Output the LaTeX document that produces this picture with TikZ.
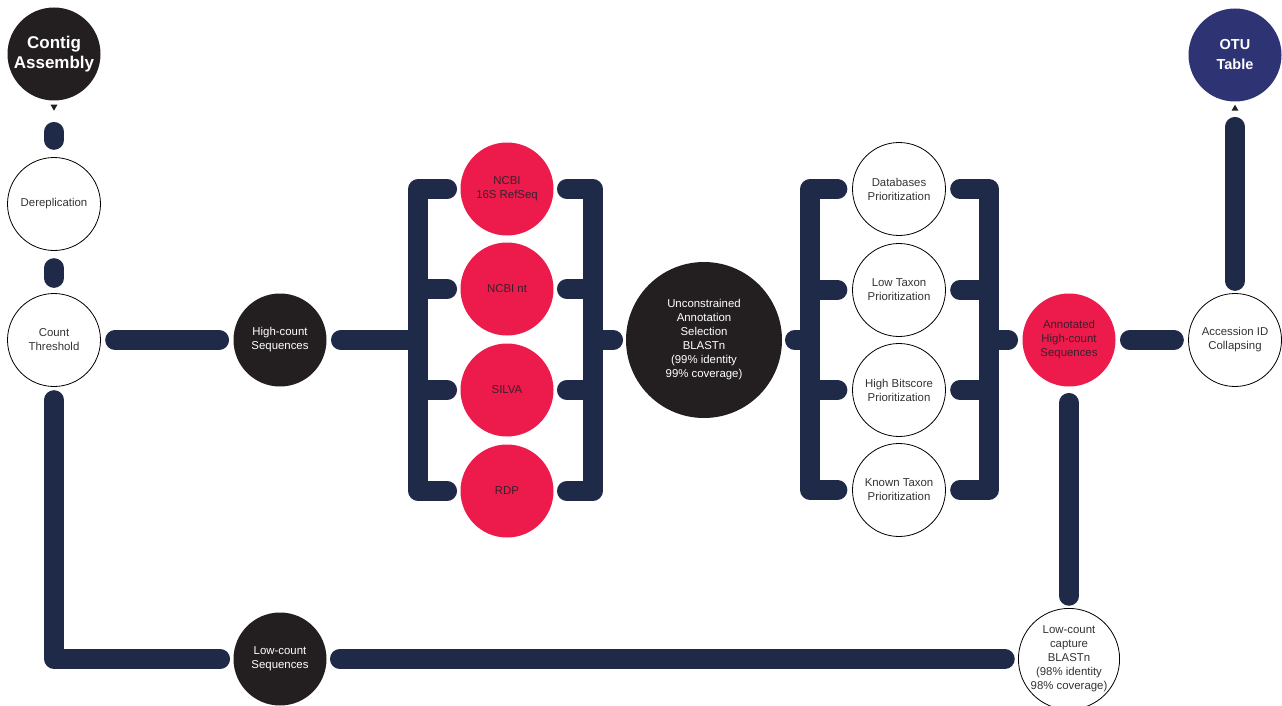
\documentclass[tikz,border=0pt]{standalone}
\usepackage{fontspec}
\setmainfont{Liberation Sans}
\usetikzlibrary{calc}
\definecolor{navy}{HTML}{1F2A48}
\definecolor{redfill}{HTML}{EC1B4B}
\definecolor{redtxt}{HTML}{3A1F2C}
\definecolor{blk}{HTML}{231F20}
\definecolor{otublue}{HTML}{2E3374}
\definecolor{txtgray}{HTML}{333333}
\begin{document}
\begin{tikzpicture}[x=1pt,y=-1pt,
  base/.style={circle,inner sep=0pt,minimum size=93pt,align=center,font=\fontsize{11.4}{14}\selectfont},
  wnode/.style={base,draw=black,line width=0.8pt,fill=white,text=txtgray},
  rnode/.style={base,fill=redfill,text=redtxt},
  bnode/.style={base,fill=blk,text=white},
  conn/.style={draw=navy,line width=19.5pt,line cap=round,line join=round},
]
\useasboundingbox (0,0) rectangle (1282,706);

% nodes
\node[bnode,font=\bfseries\fontsize{17}{20}\selectfont] (contig) at (54,54) {Contig\\Assembly};
\node[wnode] (derep) at (54,204) {Dereplication};
\node[wnode] (count) at (54,340) {Count\\Threshold};
\node[bnode] (high) at (280,340) {High-count\\Sequences};
\node[rnode] (ncbi16) at (507,189) {NCBI\\16S RefSeq};
\node[rnode] (nt) at (507,289) {NCBI nt};
\node[rnode] (silva) at (507,390) {SILVA};
\node[rnode] (rdp) at (507,491) {RDP};
\node[bnode,minimum size=156pt] (unc) at (704,340) {Unconstrained\\Annotation\\Selection\\BLASTn\\(99\% identity\\99\% coverage)};
\node[wnode] (dbp) at (899,189) {Databases\\Prioritization};
\node[wnode] (ltp) at (899,290) {Low Taxon\\Prioritization};
\node[wnode] (hbp) at (899,390) {High Bitscore\\Prioritization};
\node[wnode] (ktp) at (899,490) {Known Taxon\\Prioritization};
\node[rnode] (annot) at (1069,340) {Annotated\\High-count\\Sequences};
\node[wnode] (acc) at (1235,340) {Accession ID\\Collapsing};
\node[base,fill=otublue,text=white,font=\bfseries\fontsize{14.5}{20}\selectfont] (otu) at (1235,55) {OTU\\Table};
\node[bnode] (low) at (280,659) {Low-count\\Sequences};
\node[wnode] (cap) at (1069,659) {Low-count\\capture\\BLASTn\\(98\% identity\\98\% coverage)};

% bracket spine coordinates
\coordinate (b1x) at (418,340);
\coordinate (b2x) at (593,340);
\coordinate (b3x) at (810,340);
\coordinate (b4x) at (989,340);

% arrow triangles
\fill[blk] ($(contig.south)+(-3.5,4)$) -- ($(contig.south)+(3.5,4)$) -- ($(contig.south)+(0,10)$) -- cycle;
\fill[blk] ($(otu.south)+(0,3)$) -- ($(otu.south)+(-3.5,9)$) -- ($(otu.south)+(3.5,9)$) -- cycle;

% left column
\draw[conn,shorten <=31pt,shorten >=17pt] (contig) -- (derep);
\draw[conn,shorten <=17pt,shorten >=15pt] (derep) -- (count);
\draw[conn,shorten <=14pt,shorten >=14pt] (count) -- (high);
\draw[conn,shorten <=13pt,shorten >=13pt] (count) |- (low);
\draw[conn,shorten <=13pt,shorten >=13pt] (low) -- (cap);

% bracket 1
\draw[conn,shorten <=14pt] (high) -- (b1x);
\draw[conn] ($(ncbi16.west)+(-13,0)$) -| (b1x |- rdp) -- ($(rdp.west)+(-13,0)$);
\draw[conn] ($(nt.west)+(-13,0)$) -- (b1x |- nt);
\draw[conn] ($(silva.west)+(-13,0)$) -- (b1x |- silva);

% bracket 2
\draw[conn] ($(ncbi16.east)+(13,0)$) -| (b2x |- rdp) -- ($(rdp.east)+(13,0)$);
\draw[conn] ($(nt.east)+(13,0)$) -- (b2x |- nt);
\draw[conn] ($(silva.east)+(13,0)$) -- (b2x |- silva);
\draw[conn,shorten >=12.5pt] (b2x) -- (unc);

% bracket 3
\draw[conn,shorten <=12.5pt] (unc) -- (b3x);
\draw[conn] ($(dbp.west)+(-14.5,0)$) -| (b3x |- ktp) -- ($(ktp.west)+(-14.5,0)$);
\draw[conn] ($(ltp.west)+(-14.5,0)$) -- (b3x |- ltp);
\draw[conn] ($(hbp.west)+(-14.5,0)$) -- (b3x |- hbp);

% bracket 4
\draw[conn] ($(dbp.east)+(14,0)$) -| (b4x |- ktp) -- ($(ktp.east)+(14,0)$);
\draw[conn] ($(ltp.east)+(14,0)$) -- (b4x |- ltp);
\draw[conn] ($(hbp.east)+(14,0)$) -- (b4x |- hbp);
\draw[conn,shorten >=14pt] (b4x) -- (annot);

% right side
\draw[conn,shorten <=14pt,shorten >=14pt] (annot) -- (acc);
\draw[conn,shorten <=12pt,shorten >=25pt] (acc) -- (otu);
\draw[conn,shorten <=16pt,shorten >=12pt] (annot) -- (cap);
\end{tikzpicture}
\end{document}
